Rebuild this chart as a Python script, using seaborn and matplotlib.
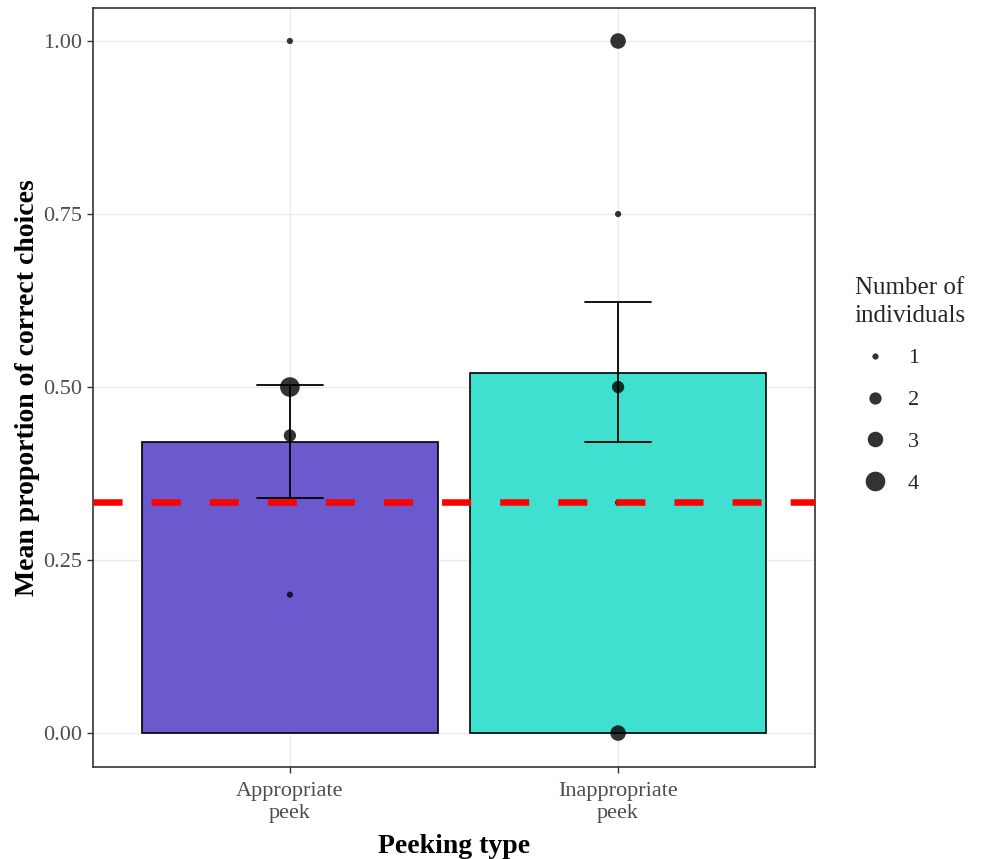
import matplotlib
matplotlib.use("Agg")
import matplotlib.pyplot as plt
from matplotlib.lines import Line2D
import seaborn as sns
import pandas as pd
import numpy as np

# Data
categories = ["Appropriate\npeek", "Inappropriate\npeek"]
bar_means = [0.42, 0.52]
err_low = [0.34, 0.42]
err_high = [0.503, 0.623]
bar_colors = ["#6A5ACD", "#40E0D0"]

pt_category = ["Appropriate\npeek"] * 4 + ["Inappropriate\npeek"] * 5
pt_value = [1.00, 0.50, 0.43, 0.20, 1.00, 0.75, 0.50, 0.333, 0.00]
pt_count = [1, 4, 2, 1, 3, 1, 2, 1, 3]
size_levels = [1, 2, 3, 4]
chance_level = 1 / 3

sizes_map = {1: 20, 2: 78, 3: 125, 4: 200}

sns.set_theme(style="whitegrid")
plt.rcParams["font.family"] = ["Liberation Serif", "DejaVu Serif"]

fig = plt.figure(figsize=(9.88, 8.59), dpi=100)
ax = fig.add_axes([0.0941, 0.1071, 0.7308, 0.8836])

bars_df = pd.DataFrame({"cat": categories, "mean": bar_means})
sns.barplot(data=bars_df, x="cat", y="mean", hue="cat", palette=bar_colors,
            width=0.9, edgecolor="black", linewidth=1.2, legend=False, ax=ax,
            errorbar=None, zorder=2, saturation=1)

xpos = np.arange(len(categories))
for i in range(len(categories)):
    ax.plot([xpos[i], xpos[i]], [err_low[i], err_high[i]], color="black", lw=1.3, zorder=4)
    for yv in (err_low[i], err_high[i]):
        ax.plot([xpos[i] - 0.1, xpos[i] + 0.1], [yv, yv], color="black", lw=1.3, zorder=4)

pts_df = pd.DataFrame({"cat": pt_category, "val": pt_value, "n": pt_count})
sns.scatterplot(data=pts_df, x="cat", y="val", size="n",
                sizes=sizes_map, color="black", alpha=0.8,
                edgecolor="none", ax=ax, zorder=5, legend=False)

ax.axhline(chance_level, color="#FF0000", lw=4.7, dashes=(4.45, 4.45), zorder=6)

ax.set_xlim(-0.6, 1.6)
ax.set_ylim(-0.049, 1.0477)
ax.set_yticks([0, 0.25, 0.5, 0.75, 1.0])
ax.set_yticklabels(["0.00", "0.25", "0.50", "0.75", "1.00"])
ax.set_xticks(xpos)
ax.set_xticklabels(categories, linespacing=1.2)
ax.grid(True, color="#EBEBEB", lw=1.0, zorder=0)
ax.set_axisbelow(True)
for s in ax.spines.values():
    s.set_color("#333333")
    s.set_linewidth(1.2)
ax.tick_params(axis="both", colors="#333333", labelcolor="#4D4D4D", labelsize=16,
               length=4, width=1, direction="out", left=True, bottom=True, pad=4)
ax.tick_params(axis="x", pad=7)
ax.set_xlabel("Peeking type", fontsize=20, fontweight="bold", color="black", labelpad=8)
ax.set_ylabel("Mean proportion of correct choices", fontsize=20, fontweight="bold",
              color="black", labelpad=2)

handles = [Line2D([], [], linestyle="none", marker="o", markersize=np.sqrt(sizes_map[k]),
                  markerfacecolor="#333333", markeredgecolor="none") for k in size_levels]
leg = fig.legend(handles, [str(k) for k in size_levels], title="Number of\nindividuals",
                 loc="upper left", bbox_to_anchor=(0.865, 0.677), frameon=False,
                 fontsize=16, title_fontsize=18, labelspacing=0.96, handletextpad=0.6,
                 borderaxespad=0, borderpad=0, handlelength=1.8)
leg._legend_box.align = "left"
leg.get_title().set_linespacing(1.3)

fig.savefig("out.png", dpi=100)
